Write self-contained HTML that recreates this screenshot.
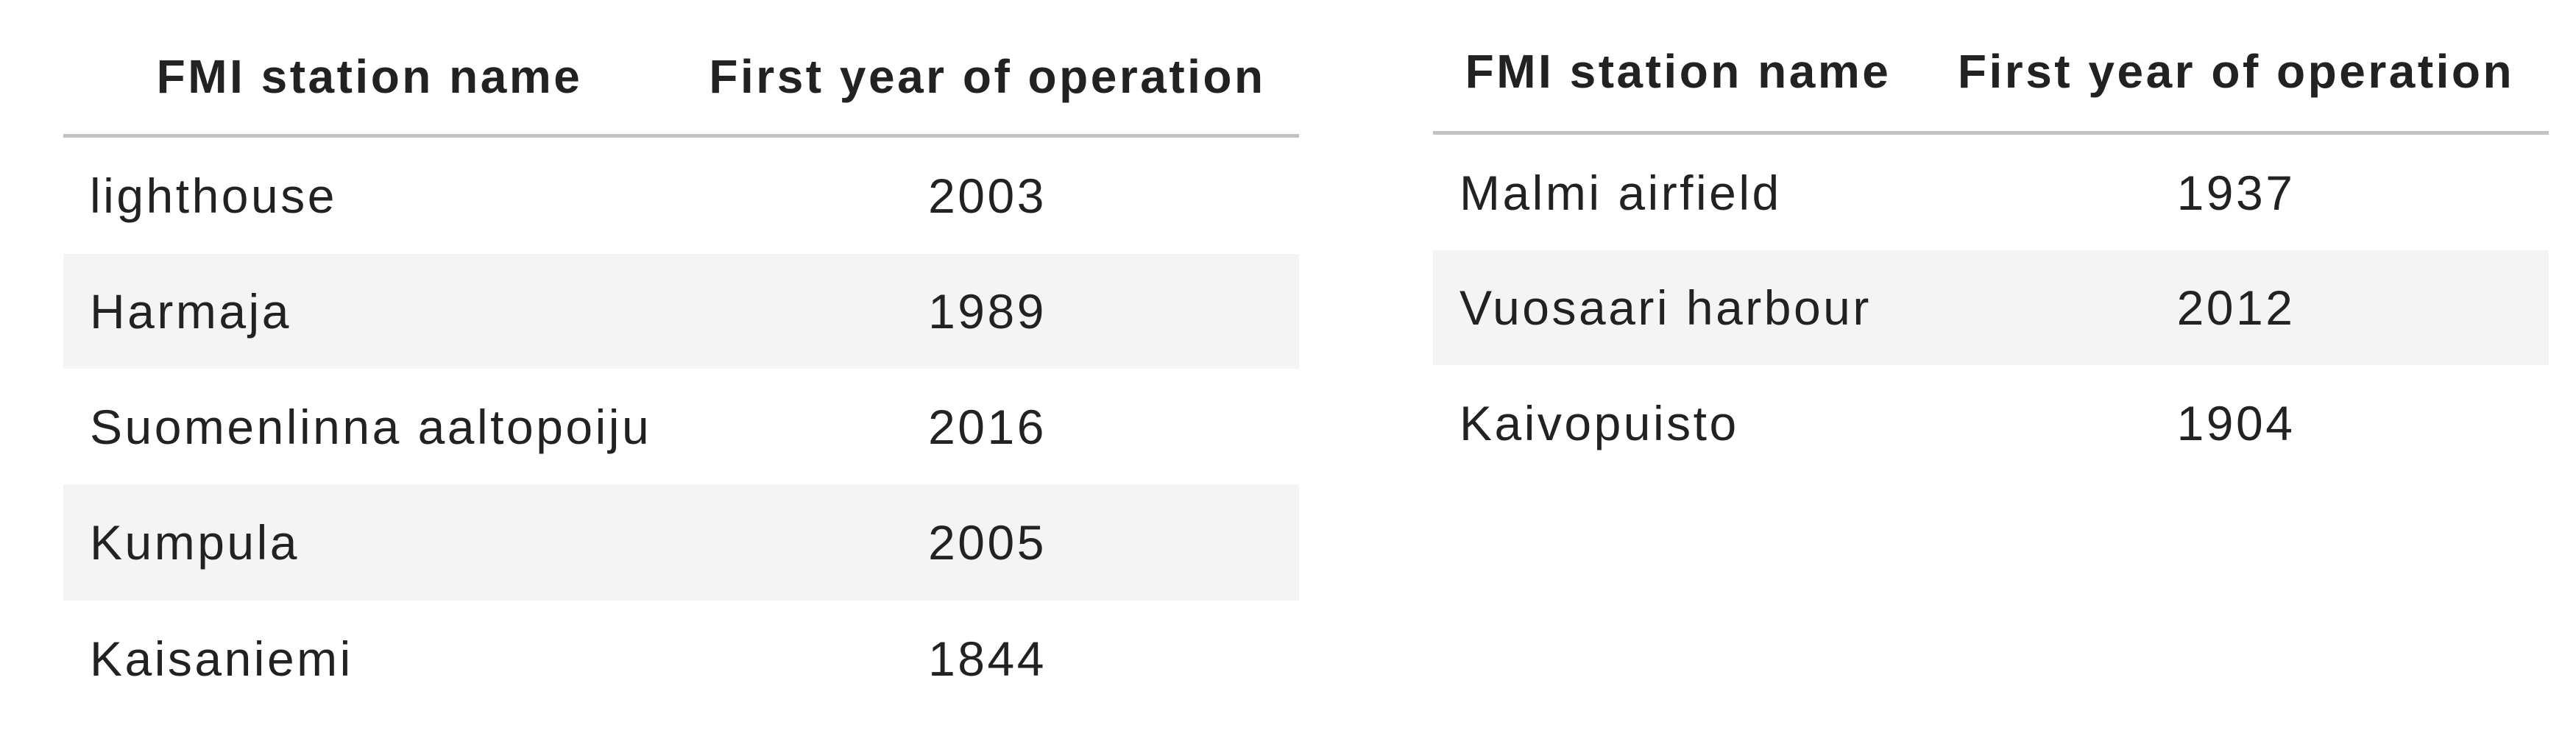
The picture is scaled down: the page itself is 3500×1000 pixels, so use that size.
<!DOCTYPE html>
<html><head><meta charset="utf-8">
<style>
html,body{margin:0;padding:0;background:#fff;}
body{width:3500px;height:1000px;position:relative;overflow:hidden;font-family:"Liberation Sans",sans-serif;color:#222;}
.tbl{position:absolute;}
.cell{position:absolute;display:flex;align-items:center;font-size:66px;letter-spacing:3.5px;white-space:nowrap;}
.hd{font-weight:bold;font-size:64px;letter-spacing:3.5px;justify-content:center;color:#222;}
.l{justify-content:flex-start;}
.c{justify-content:center;}
.rowbg{position:absolute;background:#f4f4f4;}
.rule{position:absolute;height:5px;background:#c2c2c2;}
</style></head>
<body>
<div class="tbl" style="left:86px;top:0;width:1679px;height:1000px;">
  <div class="cell hd" style="left:0;top:64px;width:832px;height:80px;">FMI station name</div>
  <div class="cell hd" style="left:832px;top:64px;width:847px;height:80px;">First year of operation</div>
  <div class="rule" style="left:0;top:182px;width:1679px;"></div>
  <div class="rowbg" style="left:0;top:345px;width:1679px;height:156px;"></div>
  <div class="rowbg" style="left:0;top:658px;width:1679px;height:158px;"></div>
  <div class="cell l" style="left:36px;top:187px;height:158px;">lighthouse</div>
  <div class="cell c" style="left:832px;top:187px;width:847px;height:158px;">2003</div>
  <div class="cell l" style="left:36px;top:345px;height:156px;">Harmaja</div>
  <div class="cell c" style="left:832px;top:345px;width:847px;height:156px;">1989</div>
  <div class="cell l" style="left:36px;top:501px;height:157px;">Suomenlinna aaltopoiju</div>
  <div class="cell c" style="left:832px;top:501px;width:847px;height:157px;">2016</div>
  <div class="cell l" style="left:36px;top:658px;height:158px;">Kumpula</div>
  <div class="cell c" style="left:832px;top:658px;width:847px;height:158px;">2005</div>
  <div class="cell l" style="left:36px;top:816px;height:157px;">Kaisaniemi</div>
  <div class="cell c" style="left:832px;top:816px;width:847px;height:157px;">1844</div>
</div>
<div class="tbl" style="left:1947px;top:0;width:1516px;height:1000px;">
  <div class="cell hd" style="left:0;top:57px;width:666px;height:80px;">FMI station name</div>
  <div class="cell hd" style="left:666px;top:57px;width:850px;height:80px;">First year of operation</div>
  <div class="rule" style="left:0;top:178px;width:1516px;"></div>
  <div class="rowbg" style="left:0;top:340px;width:1516px;height:156px;"></div>
  <div class="cell l" style="left:36px;top:183px;height:157px;">Malmi airfield</div>
  <div class="cell c" style="left:666px;top:183px;width:850px;height:157px;">1937</div>
  <div class="cell l" style="left:36px;top:340px;height:156px;">Vuosaari harbour</div>
  <div class="cell c" style="left:666px;top:340px;width:850px;height:156px;">2012</div>
  <div class="cell l" style="left:36px;top:496px;height:157px;">Kaivopuisto</div>
  <div class="cell c" style="left:666px;top:496px;width:850px;height:157px;">1904</div>
</div>
</body></html>
